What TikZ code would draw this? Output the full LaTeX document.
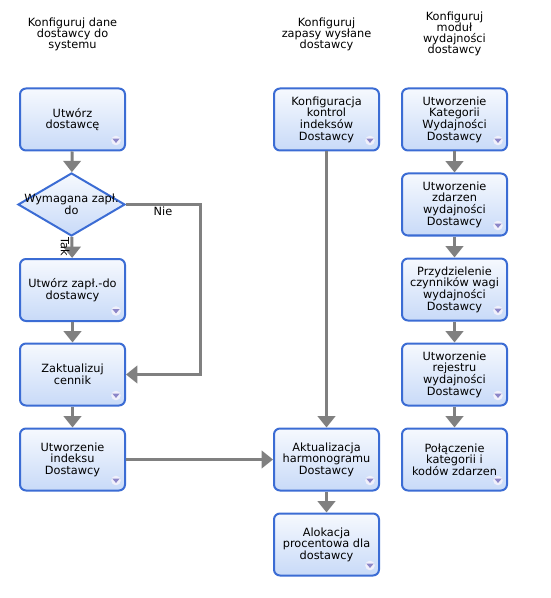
\documentclass[tikz,border=0pt]{standalone}
\usepackage{fontspec}
\setmainfont{DejaVu Sans}
\usetikzlibrary{shapes.geometric,arrows.meta,calc}
\definecolor{boxborder}{HTML}{3B6CD4}
\definecolor{boxtop}{HTML}{F6F9FE}
\definecolor{boxbot}{HTML}{C8DAF8}
\definecolor{linegray}{HTML}{808080}
\definecolor{iconfill}{HTML}{F0F0FB}
\definecolor{icontri}{HTML}{8C86C8}
\newcommand{\boxicon}[1]{%
  \coordinate (#1-ic) at ($(#1.south east)+(-10,-11)$);
  \fill[iconfill] (#1-ic) circle (3.6pt);
  \fill[icontri] ($(#1-ic)+(-3.6,-1.8)$) -- ($(#1-ic)+(3.6,-1.8)$) -- ($(#1-ic)+(0,2.4)$) -- cycle;
}
\begin{document}
\begin{tikzpicture}[x=0.75pt,y=-0.75pt,
  every node/.style={font=\fontsize{8.5pt}{8.7pt}\selectfont, align=center, text=black},
  stepbox/.style={rectangle, rounded corners=4.5pt, draw=boxborder, line width=1.5pt,
    top color=boxtop, bottom color=boxbot, minimum width=78.75pt, minimum height=46.5pt, inner sep=0pt},
  decision/.style={diamond, draw=boxborder, line width=1.5pt,
    top color=boxtop, bottom color=boxbot, minimum width=80.25pt, minimum height=47.25pt, inner sep=0pt},
  flow/.style={draw=linegray, line width=2.25pt, -{Triangle[length=8.5pt,width=13pt]}},
  title/.style={font=\fontsize{8.5pt}{8.3pt}\selectfont}
]
\useasboundingbox (0,0) rectangle (550,598);

% titles
\node[title] (t1) at (72.5,34) {Konfiguruj dane\\dostawcy do\\systemu};
\node[title] (t2) at (326.5,34) {Konfiguruj\\zapasy wysłane\\dostawcy};
\node[title] (t3) at (454.5,34) {Konfiguruj\\moduł\\wydajności\\dostawcy};

% column 1
\node[stepbox] (a1) at (72.5,119.5) {Utwórz\\dostawcę};
\node[decision] (d1) at (71.5,204.5) {};
\node (d1t) at (71.5,204) {Wymagana zapł.\\do};
\node[stepbox] (a2) at (72.5,290) {Utwórz zapł.-do\\dostawcy};
\node[stepbox] (a3) at (72.5,374.5) {Zaktualizuj\\cennik};
\node[stepbox] (a4) at (72.5,459.5) {Utworzenie\\indeksu\\Dostawcy};

% column 2
\node[stepbox] (b1) at (326.5,119.5) {Konfiguracja\\kontrol\\indeksów\\Dostawcy};
\node[stepbox] (b2) at (326.5,459.5) {Aktualizacja\\harmonogramu\\Dostawcy};
\node[stepbox] (b3) at (326.5,544.5) {Alokacja\\procentowa dla\\dostawcy};

% column 3
\node[stepbox] (c1) at (454.5,119.5) {Utworzenie\\Kategorii\\Wydajności\\Dostawcy};
\node[stepbox] (c2) at (454.5,204.5) {Utworzenie\\zdarzen\\wydajności\\Dostawcy};
\node[stepbox] (c3) at (454.5,289.5) {Przydzielenie\\czynników wagi\\wydajności\\Dostawcy};
\node[stepbox] (c4) at (454.5,374.5) {Utworzenie\\rejestru\\wydajności\\Dostawcy};
\node[stepbox] (c5) at (454.5,459.5) {Połączenie\\kategorii i\\kodów zdarzen};

\foreach \n in {a1,a2,a3,a4,b1,b2,b3,c1,c2,c3,c4,c5} {\boxicon{\n}}

% connectors
\coordinate (nie1) at (200,204.5);
\coordinate (nie2) at (200,374.5);
\draw[flow] (a1) -- (d1);
\draw[flow] (d1) -- (a2);
\draw[flow] (d1.east) -- (nie1) -- (nie2) -- (a3.east);
\draw[flow] (a2) -- (a3);
\draw[flow] (a3) -- (a4);
\draw[flow] (a4) -- (b2);
\draw[flow] (b1) -- (b2);
\draw[flow] (b2) -- (b3);
\draw[flow] (c1) -- (c2);
\draw[flow] (c2) -- (c3);
\draw[flow] (c3) -- (c4);
\draw[flow] (c4) -- (c5);

% labels
\node (nie) at (163,211) {Nie};
\node[rotate=-90] (tak) at (65,247) {Tak};
\end{tikzpicture}
\end{document}
